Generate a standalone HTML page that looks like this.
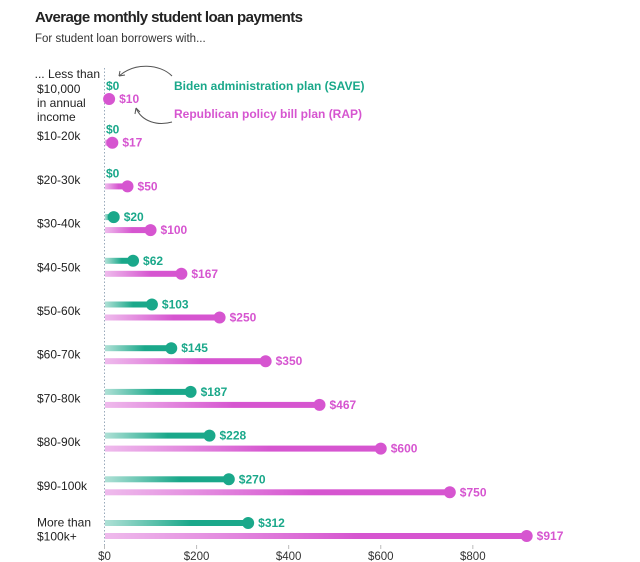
<!DOCTYPE html>
<html><head><meta charset="utf-8">
<style>
body{margin:0;background:#fff;font-family:"Liberation Sans",sans-serif;}
#wrap{position:relative;width:640px;height:562px;overflow:hidden;}
</style></head>
<body>
<div id="wrap">
<svg id="chart" width="640" height="562">
<defs>
<linearGradient id="gG" x1="0" x2="1" y1="0" y2="0"><stop offset="0" stop-color="#1aa88a" stop-opacity="0.35"/><stop offset="0.6" stop-color="#1aa88a" stop-opacity="1"/></linearGradient>
<linearGradient id="gP" x1="0" x2="1" y1="0" y2="0"><stop offset="0" stop-color="#d655d0" stop-opacity="0.4"/><stop offset="0.6" stop-color="#d655d0" stop-opacity="1"/></linearGradient>
</defs>
<text x="35" y="22" font-size="15" font-weight="bold" fill="#222" textLength="268">Average monthly student loan payments</text>
<text x="35" y="42" font-size="11.5" fill="#333">For student loan borrowers with...</text>
<line x1="104.5" y1="68" x2="104.5" y2="546" stroke="#9ab" stroke-dasharray="1.5,2"/>
<g id="labels" font-size="12" fill="#222">
<text x="100" y="78" text-anchor="end">... Less than</text>
<text x="37" y="93">$10,000</text>
<text x="37" y="107">in annual</text>
<text x="37" y="121">income</text>
</g>
<text x="174" y="90" font-size="12" font-weight="bold" fill="#1aa88a">Biden administration plan (SAVE)</text>
<text x="174" y="118" font-size="12" font-weight="bold" fill="#d655d0">Republican policy bill plan (RAP)</text>
<path d="M172,76 C160,64 135,62 119,76" fill="none" stroke="#555" stroke-width="1"/>
<path d="M119,76 l6,-1 M119,76 l1,-5" stroke="#555" stroke-width="1"/>
<path d="M172,122 C158,126 142,122 136,108" fill="none" stroke="#555" stroke-width="1"/>
<path d="M136,108 l-1,6 M136,108 l4,4" stroke="#555" stroke-width="1"/>
<g id="marks"></g>
<g id="axis"></g>
</svg>
</div>
<script>
const categories=["<$10k","$10-20k","$20-30k","$30-40k","$40-50k","$50-60k","$60-70k","$70-80k","$80-90k","$90-100k","More than $100k+"];
const saveValues=[0,0,0,20,62,103,145,187,228,270,312];
const rapValues=[10,17,50,100,167,250,350,467,600,750,917];
const tickValues=[0,200,400,600,800];
const tickLabels=["$0","$200","$400","$600","$800"];
const NS="http://www.w3.org/2000/svg";
function x(v){return 104.5+v*0.4604;}
function yRow(i){return 99+i*43.7;}
function mk(tag,attrs,parent){const e=document.createElementNS(NS,tag);for(const k in attrs)e.setAttribute(k,attrs[k]);parent.appendChild(e);return e;}
const marks=document.getElementById('marks');
const labels=document.getElementById('labels');
const axis=document.getElementById('axis');
categories.forEach((c,i)=>{
  const yp=yRow(i), yg=yp-13;
  if(i>0){
    const lines=c==="More than $100k+"?["More than","$100k+"]:[c];
    const t=mk('text',{x:37,y:(yp+yg)/2+4-(lines.length-1)*7},labels);
    
    
    lines.forEach((l,j)=>{const s=mk('tspan',{x:37,dy:j?14:0},t);s.textContent=l;});
  }
  [[saveValues[i],yg,'#1aa88a','url(#gG)','save'],[rapValues[i],yp,'#d655d0','url(#gP)','rap']].forEach(([v,y,col,grad,nm])=>{
    if(v>0){
      const b=mk('rect',{x:105,y:y-3,width:Math.max(0,x(v)-105),height:6,fill:grad},marks);
      
      
      const d=mk('circle',{cx:x(v),cy:y,r:6,fill:col},marks);
      
      
    }
    const lt=mk('text',{x:v>0?x(v)+10:106,y:y+4,'font-size':12,'font-weight':'bold',fill:col},marks);
    lt.textContent='$'+v;
    
    
  });
});
tickValues.forEach((v,i)=>{
  const tk=mk('line',{x1:x(v),x2:x(v),y1:545,y2:549,stroke:'#bbb'},axis);
  
  
  const t=mk('text',{x:x(v),y:560,'text-anchor':'middle','font-size':11.5,fill:'#333'},axis);
  t.textContent=tickLabels[i];
  
  
});
</script>
</body></html>
